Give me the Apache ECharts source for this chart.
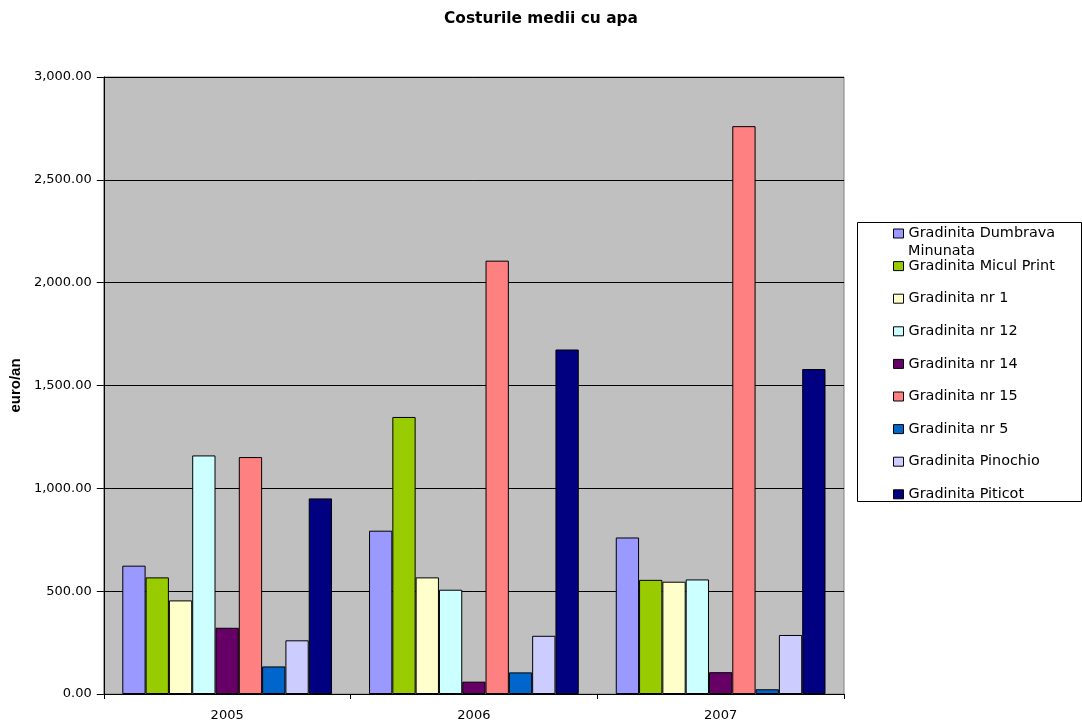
<!DOCTYPE html>
<html>
<head>
<meta charset="utf-8">
<script src="https://cdn.jsdelivr.net/npm/echarts@6/dist/echarts.min.js"></script>
<style>
html,body{margin:0;padding:0;background:#ffffff;}
#chart{width:1082px;height:724px;}
</style>
</head>
<body>
<div id="chart"></div>
<script>
// ---- data ----
const titleText = 'Costurile medii cu apa';
const yAxisName = 'euro/an';
const categories = ['2005', '2006', '2007'];
const seriesNames = [
  'Gradinita Dumbrava Minunata',
  'Gradinita Micul Print',
  'Gradinita nr 1',
  'Gradinita nr 12',
  'Gradinita nr 14',
  'Gradinita nr 15',
  'Gradinita nr 5',
  'Gradinita Pinochio',
  'Gradinita Piticot'
];
const dumbravaMinunata = [624, 794, 761];
const miculPrint = [567, 1347, 555];
const nr1 = [455, 567, 546];
const nr12 = [1160, 507, 557];
const nr14 = [322, 60, 106];
const nr15 = [1152, 2107, 2761];
const nr5 = [134, 105, 23];
const pinochio = [261, 283, 287];
const piticot = [951, 1675, 1580];
const seriesColors = ['#9999FF', '#99CC00', '#FFFFCC', '#CCFFFF', '#660066', '#FF8080', '#0066CC', '#CCCCFF', '#000080'];
const yMin = 0, yMax = 3000, yStep = 500;

const allValues = [dumbravaMinunata, miculPrint, nr1, nr12, nr14, nr15, nr5, pinochio, piticot];

const chart = echarts.init(document.getElementById('chart'), null, {renderer: 'canvas'});
const fontMain = '"DejaVu Sans", sans-serif';

const series = seriesNames.map((name, i) => ({
  name: name,
  type: 'bar',
  data: allValues[i],
  barGap: '0%',
  barCategoryGap: '15%',
  itemStyle: {color: seriesColors[i], borderColor: '#000000', borderWidth: 1},
  emphasis: {disabled: true}
}));

const option = {
  animation: false,
  backgroundColor: '#ffffff',
  title: {
    text: titleText,
    left: 'center',
    top: 11,
    padding: 0,
    textStyle: {fontFamily: fontMain, fontWeight: 'bold', fontSize: 15.4, color: '#000000'}
  },
  legend: {
    orient: 'vertical',
    left: 893,
    top: 225.5,
    padding: 0,
    itemGap: 16.6,
    itemWidth: 10,
    itemHeight: 9,
    icon: 'rect',
    itemStyle: {borderColor: '#000000', borderWidth: 1},
    textStyle: {fontFamily: fontMain, fontSize: 14.4, color: '#000000', lineHeight: 16},
    formatter: function (name) { return name === seriesNames[0] ? 'Gradinita Dumbrava' : name; },
    data: seriesNames,
    selectedMode: false
  },
  graphic: [
    {
      type: 'rect', z: 100, silent: true,
      shape: {x: 857.5, y: 222.5, width: 224, height: 279},
      style: {fill: 'none', stroke: '#000000', lineWidth: 1}
    },
    {
      type: 'text', z: 100, silent: true,
      x: 908, y: 251.5,
      style: {text: 'Minunata', fill: '#000000', font: '14.4px "DejaVu Sans", sans-serif', textVerticalAlign: 'middle', textAlign: 'left'}
    }
  ],
  grid: {
    left: 102, right: 238, top: 77, bottom: 30,
    show: true,
    backgroundColor: '#C0C0C0',
    borderColor: '#808080',
    borderWidth: 1,
    containLabel: false
  },
  xAxis: {
    type: 'category',
    data: categories,
    axisLine: {show: true, lineStyle: {color: '#000000', width: 1}},
    axisTick: {show: true, alignWithLabel: false, length: 5, lineStyle: {color: '#000000'}},
    axisLabel: {fontFamily: fontMain, fontSize: 13, color: '#000000', margin: 15},
    splitLine: {show: false}
  },
  yAxis: {
    type: 'value',
    min: yMin, max: yMax, interval: yStep,
    name: yAxisName,
    nameLocation: 'middle',
    nameRotate: 90,
    nameGap: 76,
    nameTextStyle: {fontFamily: '"Liberation Sans", Arial, sans-serif', fontWeight: 'bold', fontSize: 15, color: '#000000'},
    axisLine: {show: true, lineStyle: {color: '#000000', width: 1}},
    axisTick: {show: true, length: 7, lineStyle: {color: '#000000'}},
    axisLabel: {
      fontFamily: fontMain, fontSize: 13, color: '#000000', margin: 12,
      formatter: function (v) { return v.toLocaleString('en-US', {minimumFractionDigits: 2, maximumFractionDigits: 2}); }
    },
    splitLine: {show: true, lineStyle: {color: '#000000', width: 1}}
  },
  series: series
};
chart.setOption(option);
</script>
</body>
</html>
